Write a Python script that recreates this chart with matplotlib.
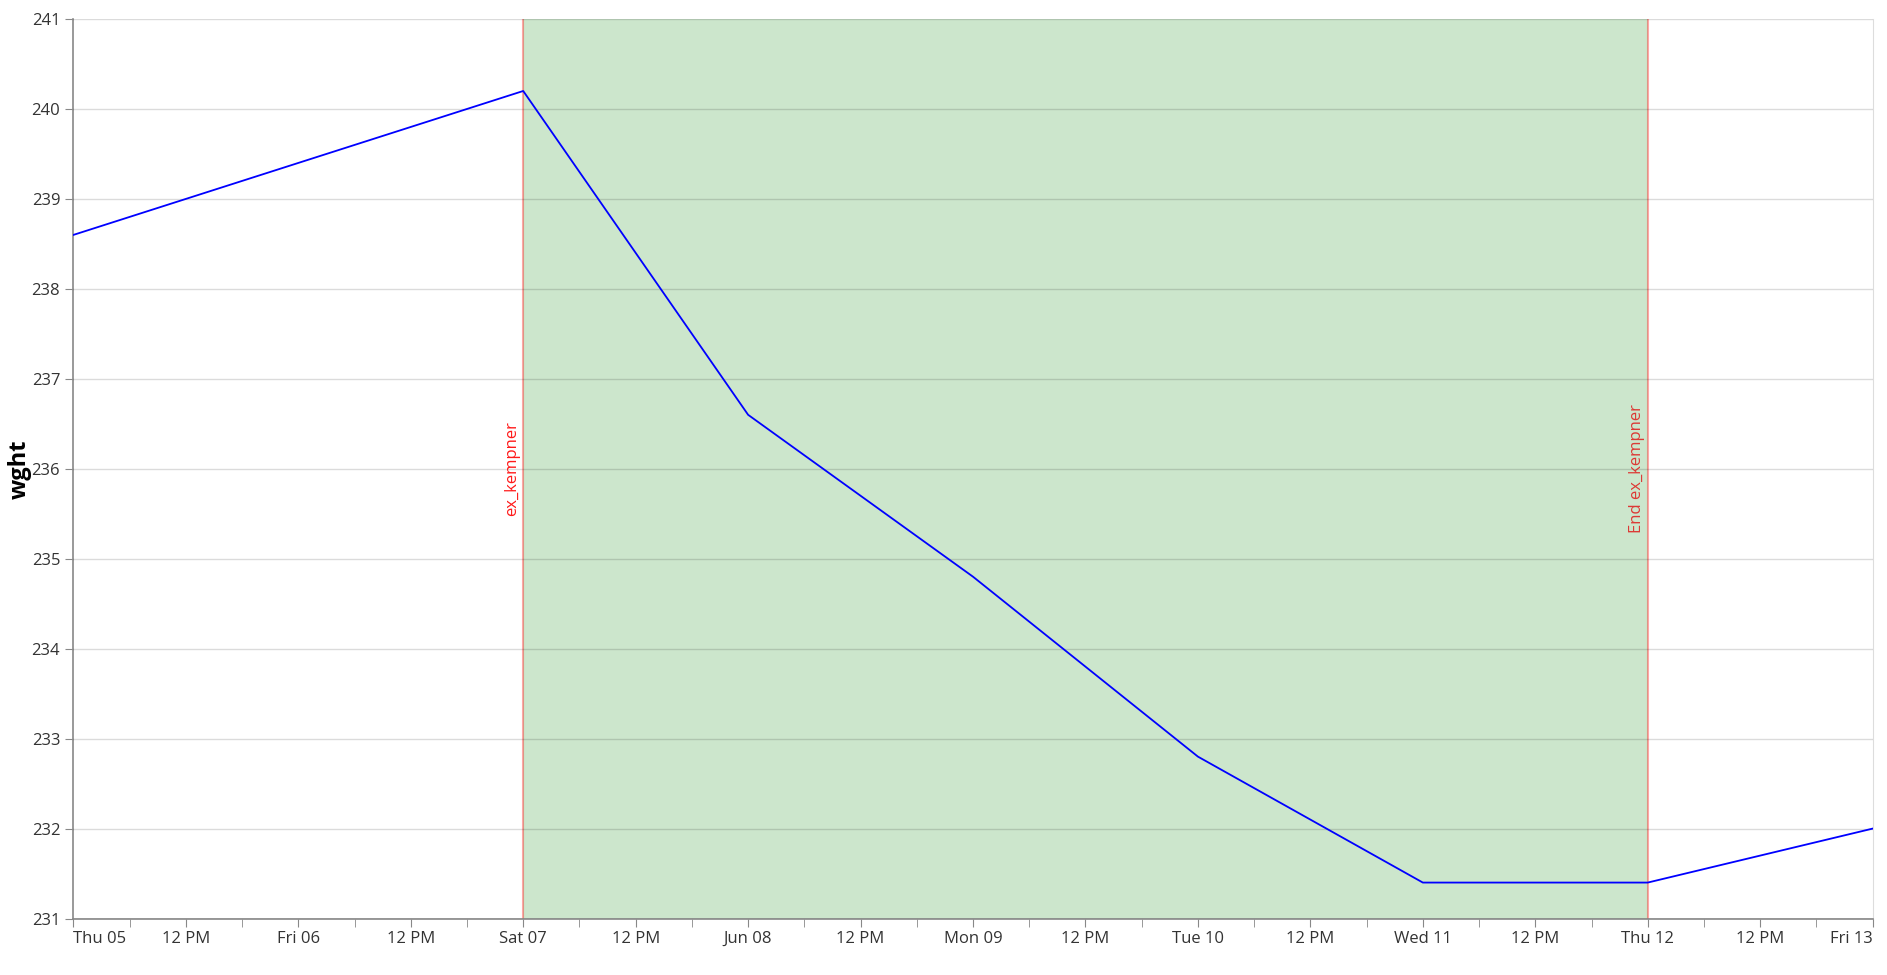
import matplotlib.pyplot as plt
import matplotlib.dates as mdates
import pandas as pd

# weight readings
dates = pd.to_datetime(['2025-06-05', '2025-06-07', '2025-06-08', '2025-06-09',
                        '2025-06-10', '2025-06-11', '2025-06-12', '2025-06-13'])
wght = [238.6, 240.2, 236.6, 234.8, 232.8, 231.4, 231.4, 232.0]

# event span
event_start = pd.Timestamp('2025-06-07')
event_end = pd.Timestamp('2025-06-12')
event_name = 'ex_kempner'

# x tick labels (every 12 hours)
tick_times = pd.date_range('2025-06-05', '2025-06-13', freq='12h')
tick_labels = ['Thu 05', '12 PM', 'Fri 06', '12 PM', 'Sat 07', '12 PM', 'Jun 08', '12 PM',
               'Mon 09', '12 PM', 'Tue 10', '12 PM', 'Wed 11', '12 PM', 'Thu 12', '12 PM', 'Fri 13']
minor_times = pd.date_range('2025-06-05 06:00', '2025-06-12 18:00', freq='12h')

plt.rcParams['font.family'] = ['Open Sans', 'DejaVu Sans']

fig = plt.figure(figsize=(18.87, 9.75), dpi=100)
ax = fig.add_axes([0.0389, 0.0579, 0.9535, 0.9226])

ax.axvspan(event_start, event_end, color='#cce6cc', zorder=0, lw=0)
ax.grid(axis='y', color='black', alpha=0.14, lw=1, zorder=1)
ax.set_axisbelow(False)

for t in [event_start, event_end]:
    ax.axvline(t, color='red', alpha=0.35, lw=1.5, zorder=2)

ax.plot(dates, wght, color='#0000ff', lw=1.3, zorder=3)

ax.text(event_start - pd.Timedelta(minutes=20), 236, event_name, rotation=90,
        ha='right', va='center', color='red', alpha=0.9, fontsize=12)
ax.text(event_end - pd.Timedelta(minutes=20), 236, 'End ' + event_name, rotation=90,
        ha='right', va='center', color='#e01a1a', alpha=0.85, fontsize=12)

ax.set_xlim(dates[0], dates[-1])
ax.set_ylim(231, 241)
ax.set_yticks(range(231, 242))

ax.set_xticks(tick_times)
ax.set_xticklabels(tick_labels)
ax.set_xticks(minor_times, minor=True)
labels = ax.get_xticklabels()
labels[0].set_ha('left')
labels[-1].set_ha('right')

ax.tick_params(axis='both', which='both', length=6, color='#888888', labelcolor='#333333',
               labelsize=12)
ax.tick_params(axis='x', pad=3)

for side in ['left', 'bottom']:
    ax.spines[side].set_color('#888888')
    ax.spines[side].set_linewidth(1.2)
ax.spines['top'].set_visible(False)
ax.spines['right'].set_color('#dddddd')

ax.set_ylabel('wght', fontsize=17, fontweight='bold', labelpad=0)

fig.savefig('out.png', dpi=100)
